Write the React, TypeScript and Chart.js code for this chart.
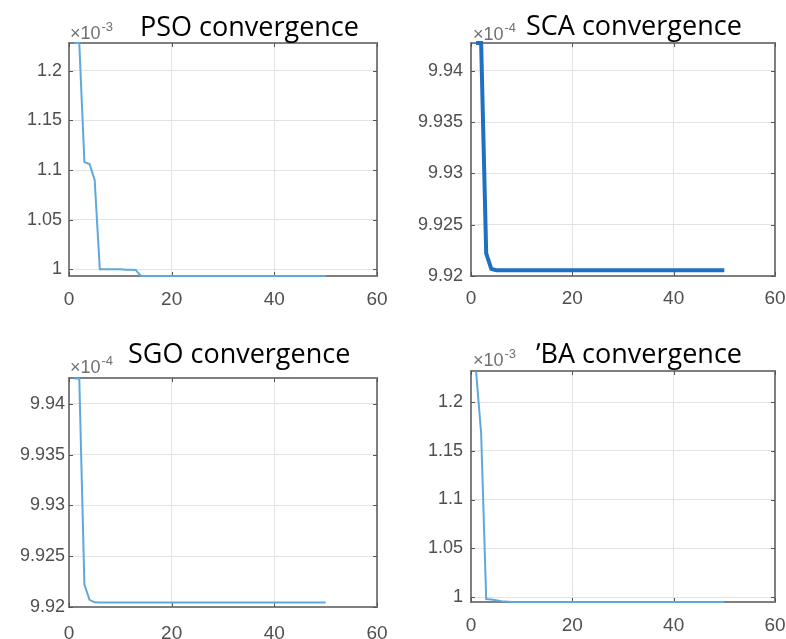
import React, { useEffect, useRef } from "react";
import { Chart, registerables } from "chart.js";

Chart.register(...registerables);

// ---------- data ----------
const iterations = [
  1, 2, 3, 4, 5, 6, 7, 8, 9, 10, 11, 12, 13, 14, 15, 16, 17, 18, 19, 20, 21, 22, 23, 24, 25,
  26, 27, 28, 29, 30, 31, 32, 33, 34, 35, 36, 37, 38, 39, 40, 41, 42, 43, 44, 45, 46, 47, 48, 49, 50,
];

// values in units of 1e-3
const psoValues = [
  1.228, 1.228, 1.108, 1.106, 1.09, 1.0, 1.0, 1.0, 1.0, 1.0, 0.9995, 0.9995, 0.9993, 0.9932, 0.9932,
  0.9932, 0.9932, 0.9932, 0.9932, 0.9932, 0.9932, 0.9932, 0.9932, 0.9932, 0.9932, 0.9932, 0.9932,
  0.9932, 0.9932, 0.9932, 0.9932, 0.9932, 0.9932, 0.9932, 0.9932, 0.9932, 0.9932, 0.9932, 0.9932,
  0.9932, 0.9932, 0.9932, 0.9932, 0.9932, 0.9932, 0.9932, 0.9932, 0.9932, 0.9932, 0.9932,
];

// values in units of 1e-4
const scaValues = [
  9.9427, 9.9427, 9.9222, 9.9207, 9.92056, 9.92055, 9.92055, 9.92055, 9.92055, 9.92055, 9.92055,
  9.92055, 9.92055, 9.92055, 9.92055, 9.92055, 9.92055, 9.92055, 9.92055, 9.92055, 9.92055, 9.92055,
  9.92055, 9.92055, 9.92055, 9.92055, 9.92055, 9.92055, 9.92055, 9.92055, 9.92055, 9.92055, 9.92055,
  9.92055, 9.92055, 9.92055, 9.92055, 9.92055, 9.92055, 9.92055, 9.92055, 9.92055, 9.92055, 9.92055,
  9.92055, 9.92055, 9.92055, 9.92055, 9.92055, 9.92055,
];

// values in units of 1e-4
const sgoValues = [
  9.9425, 9.9425, 9.9222, 9.9207, 9.92046, 9.92045, 9.92045, 9.92045, 9.92045, 9.92045, 9.92045,
  9.92045, 9.92045, 9.92045, 9.92045, 9.92045, 9.92045, 9.92045, 9.92045, 9.92045, 9.92045, 9.92045,
  9.92045, 9.92045, 9.92045, 9.92045, 9.92045, 9.92045, 9.92045, 9.92045, 9.92045, 9.92045, 9.92045,
  9.92045, 9.92045, 9.92045, 9.92045, 9.92045, 9.92045, 9.92045, 9.92045, 9.92045, 9.92045, 9.92045,
  9.92045, 9.92045, 9.92045, 9.92045, 9.92045, 9.92045,
];

// values in units of 1e-3
const baValues = [
  1.2318, 1.168, 0.998, 0.9975, 0.9966, 0.9958, 0.9953, 0.995, 0.995, 0.995, 0.995, 0.995, 0.995,
  0.995, 0.995, 0.995, 0.995, 0.995, 0.995, 0.995, 0.995, 0.995, 0.995, 0.995, 0.995, 0.995, 0.995,
  0.995, 0.995, 0.995, 0.995, 0.995, 0.995, 0.995, 0.995, 0.995, 0.995, 0.995, 0.995, 0.995, 0.995,
  0.995, 0.995, 0.995, 0.995, 0.995, 0.995, 0.995, 0.995, 0.995,
];

const xTicks = [0, 20, 40, 60];
const ticksE3 = [1, 1.05, 1.1, 1.15, 1.2];
const ticksE4 = [9.92, 9.925, 9.93, 9.935, 9.94];

const titles = ["PSO convergence", "SCA convergence", "SGO convergence", "\u02BCBA convergence"];
const exponents = ["-3", "-4", "-4", "-3"];

// ---------- panel layout ----------
type Panel = {
  left: number; top: number; w: number; h: number;
  area: { l: number; t: number; r: number; b: number };
  values: number[]; yTicks: number[]; yMin: number; yMax: number;
  title: string; titleX: number; titleY: number;
  exp: string; expX: number; expY: number;
  color: string; lw: number; xPad: number; yPad: number;
};

const panels: Panel[] = [
  {
    left: 0, top: 0, w: 393, h: 320, area: { l: 69, t: 43, r: 377, b: 276 },
    values: psoValues, yTicks: ticksE3, yMin: 0.9932, yMax: 1.228,
    title: titles[0], titleX: 140, titleY: 36, exp: exponents[0], expX: 70, expY: 39,
    color: "#5fa8de", lw: 2, xPad: 12, yPad: 7,
  },
  {
    left: 393, top: 0, w: 393, h: 320, area: { l: 78, t: 43, r: 382, b: 276 },
    values: scaValues, yTicks: ticksE4, yMin: 9.92, yMax: 9.9427,
    title: titles[1], titleX: 133, titleY: 35, exp: exponents[1], expX: 80, expY: 40,
    color: "#1f70c1", lw: 4, xPad: 11, yPad: 8,
  },
  {
    left: 0, top: 320, w: 393, h: 319, area: { l: 69, t: 58, r: 377, b: 287 },
    values: sgoValues, yTicks: ticksE4, yMin: 9.92, yMax: 9.94256,
    title: titles[2], titleX: 128, titleY: 43, exp: exponents[2], expX: 70, expY: 53,
    color: "#5fa8de", lw: 2, xPad: 15, yPad: 4,
  },
  {
    left: 393, top: 320, w: 393, h: 319, area: { l: 78, t: 51, r: 382, b: 282 },
    values: baValues, yTicks: ticksE3, yMin: 0.9949, yMax: 1.2318,
    title: titles[3], titleX: 143, titleY: 43, exp: exponents[3], expX: 80, expY: 46,
    color: "#5fa8de", lw: 2, xPad: 12, yPad: 8,
  },
];

const TICK_FONT = "'Liberation Sans', Arial, sans-serif";
const TITLE_FONT = "'Open Sans', 'Noto Sans', sans-serif";
const TICK_COLOR = "#4f4f4f";

function fmt(v: number): string {
  return String(parseFloat(v.toFixed(4)));
}

function PanelChart({ p }: { p: Panel }) {
  const ref = useRef<HTMLCanvasElement | null>(null);
  useEffect(() => {
    if (!ref.current) return;
    const decor = {
      id: "decor",
      beforeDatasetsDraw(chart: any) {
        const ctx = chart.ctx as CanvasRenderingContext2D;
        const a = chart.chartArea;
        const xs = chart.scales.x;
        const ys = chart.scales.y;
        ctx.save();
        // box
        ctx.strokeStyle = "#7f7f7f";
        ctx.lineWidth = 2;
        ctx.strokeRect(a.left, a.top, a.right - a.left, a.bottom - a.top);
        // inward tick marks
        ctx.strokeStyle = "#555";
        ctx.lineWidth = 1;
        ctx.beginPath();
        xTicks.forEach((t) => {
          const px = Math.round(xs.getPixelForValue(t)) + 0.5;
          ctx.moveTo(px, a.bottom); ctx.lineTo(px, a.bottom - 4);
          ctx.moveTo(px, a.top); ctx.lineTo(px, a.top + 4);
        });
        p.yTicks.forEach((t) => {
          const py = Math.round(ys.getPixelForValue(t)) + 0.5;
          ctx.moveTo(a.left, py); ctx.lineTo(a.left + 4, py);
          ctx.moveTo(a.right, py); ctx.lineTo(a.right - 4, py);
        });
        ctx.stroke();
        ctx.restore();
      },
      afterDraw(chart: any) {
        const ctx = chart.ctx as CanvasRenderingContext2D;
        ctx.save();
        // exponent label
        ctx.fillStyle = "#707070";
        ctx.textBaseline = "alphabetic";
        ctx.textAlign = "left";
        ctx.font = `18px ${TICK_FONT}`;
        const base = "\u00D710";
        ctx.fillText(base, p.expX, p.expY);
        const bw = ctx.measureText(base).width;
        ctx.font = `13px ${TICK_FONT}`;
        ctx.fillText(p.exp, p.expX + bw + 1, p.expY - 8);
        // title
        ctx.fillStyle = "#000";
        ctx.font = `27px ${TITLE_FONT}`;
        ctx.fillText(p.title, p.titleX, p.titleY);
        ctx.restore();
      },
    };

    const chart = new Chart(ref.current, {
      type: "line",
      data: {
        datasets: [
          {
            data: iterations.map((x, i) => ({ x, y: p.values[i] })),
            borderColor: p.color,
            borderWidth: p.lw,
            pointRadius: 0,
            tension: 0,
            fill: false,
            clip: 3,
          } as any,
        ],
      },
      options: {
        animation: false,
        responsive: false,
        devicePixelRatio: 1,
        layout: {
          padding: { left: 0, top: p.area.t, right: p.w - p.area.r, bottom: 0 },
        },
        plugins: { legend: { display: false }, tooltip: { enabled: false }, title: { display: false } },
        scales: {
          x: {
            type: "linear",
            min: 0,
            max: 60,
            afterBuildTicks: (axis: any) => {
              axis.ticks = xTicks.map((v) => ({ value: v }));
            },
            afterFit: (s: any) => {
              s.height = p.h - p.area.b;
              s.paddingLeft = 0;
              s.paddingRight = 0;
            },
            grid: { color: "#e3e3e3", lineWidth: 1, drawTicks: false },
            border: { display: false },
            ticks: {
              padding: p.xPad,
              color: TICK_COLOR,
              font: { family: TICK_FONT, size: 19 },
              maxRotation: 0,
              autoSkip: false,
              callback: (v: any) => String(v),
            },
          },
          y: {
            type: "linear",
            min: p.yMin,
            max: p.yMax,
            afterBuildTicks: (axis: any) => {
              axis.ticks = p.yTicks.map((v) => ({ value: v }));
            },
            afterFit: (s: any) => {
              s.width = p.area.l;
              s.paddingTop = 0;
              s.paddingBottom = 0;
            },
            grid: { color: "#e3e3e3", lineWidth: 1, drawTicks: false },
            border: { display: false },
            ticks: {
              padding: p.yPad,
              color: TICK_COLOR,
              font: { family: TICK_FONT, size: 18 },
              autoSkip: false,
              callback: (v: any) => fmt(Number(v)),
            },
          },
        },
      },
      plugins: [decor],
    });
    return () => chart.destroy();
  }, [p]);

  return (
    <canvas
      ref={ref}
      width={p.w}
      height={p.h}
      style={{ position: "absolute", left: p.left, top: p.top, width: p.w, height: p.h }}
    />
  );
}

export default function App() {
  return (
    <div
      style={{
        position: "absolute",
        left: 0,
        top: 0,
        width: 786,
        height: 639,
        background: "#ffffff",
        overflow: "hidden",
      }}
    >
      {panels.map((p, i) => (
        <PanelChart key={i} p={p} />
      ))}
    </div>
  );
}
